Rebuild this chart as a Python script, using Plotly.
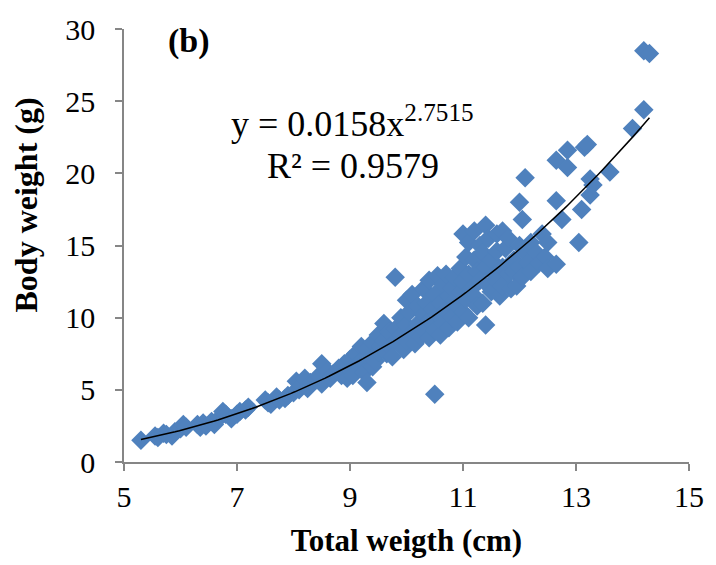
import plotly.graph_objects as go

# ---- data ----
total_length = [
    5.3, 5.55, 5.6, 5.7, 5.75, 5.85, 5.9, 6.0, 6.05, 6.1, 6.3, 6.35, 6.4, 6.45, 6.55, 6.6,
    6.7, 6.75, 6.8, 6.9, 7.0, 7.05, 7.15, 7.2, 7.5, 7.55, 7.6, 7.7, 7.75, 7.85, 7.9, 8.0,
    8.05, 8.1, 8.15, 8.2, 8.25, 8.3, 8.4, 8.45, 8.5, 8.5, 8.6, 8.65, 8.7, 8.8, 8.85, 8.9,
    8.95, 9.0, 9.0, 9.05, 9.1, 9.15, 9.2, 9.2, 9.25, 9.3, 9.3, 9.35, 9.4, 9.4, 9.45, 9.5,
    9.5, 9.55, 9.6, 9.6, 9.65, 9.7, 9.7, 9.75, 9.8, 9.8, 9.85, 9.9, 9.9, 9.95, 10.0, 10.0,
    10.0, 10.05, 10.1, 10.1, 10.15, 10.2, 10.2, 10.25, 10.3, 10.3, 10.3, 10.35, 10.4, 10.4,
    10.4, 10.45, 10.5, 10.5, 10.5, 10.55, 10.55, 10.6, 10.6, 10.65, 10.65, 10.7, 10.7, 10.75,
    10.75, 10.8, 10.8, 10.85, 10.85, 10.9, 10.9, 10.95, 10.95, 11.0, 11.0, 11.0, 11.05, 11.05,
    11.1, 11.1, 11.1, 11.15, 11.2, 11.2, 11.2, 11.25, 11.25, 11.3, 11.3, 11.35, 11.35, 11.4,
    11.4, 11.4, 11.45, 11.45, 11.5, 11.5, 11.55, 11.6, 11.6, 11.6, 11.65, 11.7, 11.7, 11.7,
    11.75, 11.8, 11.8, 11.85, 11.9, 11.9, 11.95, 12.0, 12.0, 12.0, 12.05, 12.05, 12.1, 12.1,
    12.15, 12.2, 12.2, 12.3, 12.35, 12.4, 12.45, 12.5, 12.5, 12.65, 12.65, 12.65, 12.75,
    12.85, 12.85, 13.05, 13.1, 13.15, 13.2, 13.25, 13.25, 13.3, 13.6, 14.0, 14.2, 14.2, 14.3,
]
body_weight = [
    1.5, 1.8, 1.7, 2.0, 1.9, 1.8, 2.1, 2.3, 2.6, 2.4, 2.6, 2.4, 2.7, 2.5, 2.8, 2.6,
    3.1, 3.5, 3.3, 3.0, 3.3, 3.5, 3.6, 3.8, 4.3, 4.1, 4.0, 4.5, 4.3, 4.4, 4.6, 4.8,
    5.6, 5.0, 5.3, 5.8, 5.1, 5.5, 5.7, 6.0, 6.8, 5.4, 6.3, 5.8, 6.1, 6.5, 6.0, 6.8,
    5.8, 7.1, 6.4, 6.0, 7.5, 6.8, 8.0, 7.0, 6.2, 5.5, 7.8, 7.2, 8.3, 6.6, 7.0, 8.8,
    7.6, 8.0, 9.6, 8.4, 7.5, 9.0, 8.0, 7.3, 12.8, 9.2, 8.5, 10.0, 8.8, 7.8, 11.2, 9.5,
    8.4, 10.4, 9.0, 11.6, 8.2, 10.8, 9.6, 8.7, 12.0, 10.2, 9.2, 11.0, 12.6, 9.8,
    8.6, 10.6, 4.7, 11.6, 9.1, 12.9, 10.2, 8.8, 11.0, 12.3, 9.6, 10.5, 13.0, 11.5,
    9.3, 12.0, 10.0, 11.2, 12.8, 9.7, 10.8, 13.4, 11.8, 15.8, 12.5, 10.4, 14.2, 11.3,
    15.2, 13.0, 10.0, 12.0, 16.0, 14.0, 11.5, 13.2, 10.8, 15.0, 12.6, 14.5, 11.0, 16.4,
    9.5, 13.5, 12.2, 15.5, 14.0, 11.8, 13.0, 15.8, 12.5, 14.6, 11.5, 16.0, 13.5, 12.2,
    14.8, 13.0, 15.5, 12.0, 14.0, 13.2, 12.2, 18.0, 15.0, 13.5, 16.8, 12.8, 19.7, 14.5,
    13.8, 15.2, 13.2, 14.5, 13.8, 15.8, 14.2, 15.2, 13.4, 20.9, 18.1, 13.7, 16.8,
    21.6, 20.4, 15.2, 17.5, 21.8, 22.0, 19.6, 18.5, 19.2, 20.1, 23.1, 24.4, 28.5, 28.3,
]
x_ticks = [5, 7, 9, 11, 13, 15]
y_ticks = [0, 5, 10, 15, 20, 25, 30]

# power trendline reported on the chart
coef_a = 0.0158
coef_b = 2.7515
r_squared = 0.9579

x_min, x_max = min(total_length), max(total_length)
n_line = 120
trend_x = [x_min + (x_max - x_min) * i / (n_line - 1) for i in range(n_line)]
trend_y = [coef_a * v ** coef_b for v in trend_x]

FONT = "Liberation Serif, Times New Roman, serif"
BLUE = "#4F81BD"
AXIS = "#868686"

fig = go.Figure()
fig.add_trace(go.Scatter(
    x=total_length, y=body_weight, mode="markers",
    marker=dict(symbol="diamond", size=15, color=BLUE, line=dict(width=0)),
    showlegend=False, hoverinfo="x+y",
))
fig.add_trace(go.Scatter(
    x=trend_x, y=trend_y, mode="lines",
    line=dict(color="black", width=1.5),
    showlegend=False, hoverinfo="skip",
))

fig.update_layout(
    width=716, height=565,
    margin=dict(l=124, r=19, t=25, b=103),
    paper_bgcolor="white", plot_bgcolor="white",
    font=dict(family=FONT, size=30, color="black"),
    xaxis=dict(
        range=[5, 15], tickvals=x_ticks, ticktext=[str(t) for t in x_ticks],
        showgrid=False, zeroline=False, showline=True, linecolor=AXIS, linewidth=1.5,
        ticks="outside", ticklen=7, tickcolor=AXIS, tickwidth=1.5,
        ticklabelstandoff=0,
        tickfont=dict(family=FONT, size=30, color="black"),
        title=dict(text="<b>Total weigth (cm)</b>", font=dict(family=FONT, size=31), standoff=18),
    ),
    yaxis=dict(
        range=[0, 30], tickvals=y_ticks, ticktext=[str(t) for t in y_ticks],
        showgrid=False, zeroline=False, showline=True, linecolor=AXIS, linewidth=1.5,
        ticks="outside", ticklen=7, tickcolor=AXIS, tickwidth=1.5,
        ticklabelstandoff=14,
        tickfont=dict(family=FONT, size=30, color="black"),
    ),
    annotations=[
        dict(x=25, y=17.8, xref="paper", yref="y", text="<b>Body weight (g)</b>",
             showarrow=False, textangle=-90, font=dict(family=FONT, size=32),
             xanchor="center", yanchor="middle"),
        dict(x=0.075, y=29.2, xref="paper", yref="y", text="<b>(b)</b>", showarrow=False,
             font=dict(family=FONT, size=34), xanchor="left", yanchor="middle"),
        dict(x=0.405, y=23.6, xref="paper", yref="y",
             text=f"y = {coef_a}x<sup>{coef_b}</sup>", showarrow=False,
             font=dict(family=FONT, size=36), xanchor="center", yanchor="middle"),
        dict(x=0.405, y=20.5, xref="paper", yref="y",
             text=f"R² = {r_squared}", showarrow=False,
             font=dict(family=FONT, size=36), xanchor="center", yanchor="middle"),
    ],
)
# y-title placed in paper pixels: convert x=25 px to paper fraction
fig.layout.annotations[0].x = (25 - 124) / (716 - 124 - 19)

fig.write_html("out.html")
